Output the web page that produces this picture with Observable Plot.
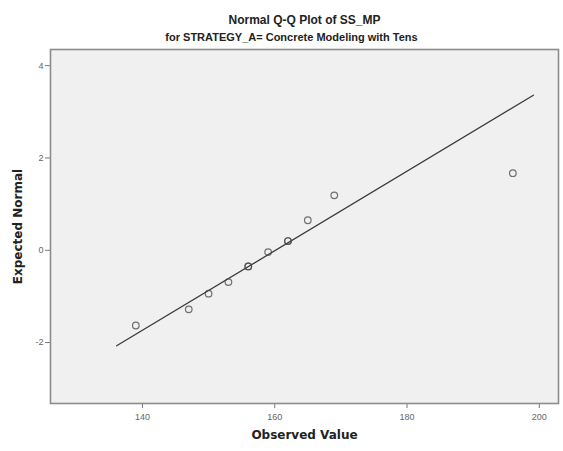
<!DOCTYPE html>
<html>
<head>
<meta charset="utf-8">
<script src="https://cdn.jsdelivr.net/npm/d3@7"></script>
<script src="https://cdn.jsdelivr.net/npm/@observablehq/plot@0.6"></script>
<style>
  html, body { margin: 0; padding: 0; background: #fff; }
  #chart svg { display: block; }
</style>
</head>
<body>
<div id="chart"></div>
<script>
const title = "Normal Q-Q Plot of SS_MP";
const subtitle = "for STRATEGY_A= Concrete Modeling with Tens";
const xLabel = "Observed Value";
const yLabel = "Expected Normal";

// observed values and expected normal scores
const observed = [139, 147, 150, 153, 156, 159, 162, 165, 169, 196];
const expected = [-1.63, -1.28, -0.94, -0.69, -0.35, -0.04, 0.20, 0.65, 1.19, 1.67];
const counts   = [1, 1, 1, 1, 2, 1, 2, 1, 1, 1];

// reference line endpoints
const lineX = [136.1, 199.1];
const lineY = [-2.07, 3.36];

const xTicks = [140, 160, 180, 200];
const yTicks = [-2, 0, 2, 4];

const points = [];
observed.forEach((x, i) => {
  for (let k = 0; k < counts[i]; k++) points.push({x, y: expected[i]});
});
const line = lineX.map((x, i) => ({x, y: lineY[i]}));

const font = "'Liberation Sans', Arial, sans-serif";
const boldFont = "'DejaVu Sans', sans-serif";

const chart = Plot.plot({
  width: 563,
  height: 451,
  marginLeft: 50,
  marginRight: 5,
  marginTop: 49,
  marginBottom: 48,
  style: {fontFamily: font, background: "#fff"},
  x: {domain: [126.1, 202.9], label: null},
  y: {domain: [-3.32, 4.35], label: null},
  marks: [
    Plot.frame({fill: "#f0f0f0", stroke: "none"}),
    Plot.axisX({ticks: xTicks, tickSize: 5, tickPadding: 5, fontSize: 9, color: "#666", stroke: "#777"}),
    Plot.axisY({ticks: yTicks, tickSize: 5, tickPadding: 2, fontSize: 9, color: "#666", stroke: "#777", tickFormat: d => String(d)}),
    Plot.line(line, {x: "x", y: "y", stroke: "#3a3a3a", strokeWidth: 1.3}),
    Plot.dot(points, {x: "x", y: "y", r: 3.3, stroke: "#444", strokeWidth: 1.2, fill: "none", strokeOpacity: 0.75}),
    Plot.frame({stroke: "#8c8c8c", strokeWidth: 1.6}),
    Plot.text([title], {frameAnchor: "top", dy: -34, fontSize: 12, fontWeight: "bold", fill: "#222", fontFamily: font}),
    Plot.text([subtitle], {frameAnchor: "top", dx: -13, dy: -16, fontSize: 11, fontWeight: "bold", fill: "#222", fontFamily: font}),
    Plot.text([xLabel], {frameAnchor: "bottom", dy: 35, fontSize: 12, fontWeight: "bold", fill: "#222", fontFamily: boldFont}),
    Plot.text([yLabel], {frameAnchor: "left", dx: -32, rotate: -90, textAnchor: "middle", fontSize: 12, fontWeight: "bold", fill: "#222", fontFamily: boldFont})
  ]
});
document.getElementById("chart").appendChild(chart);
</script>
</body>
</html>
